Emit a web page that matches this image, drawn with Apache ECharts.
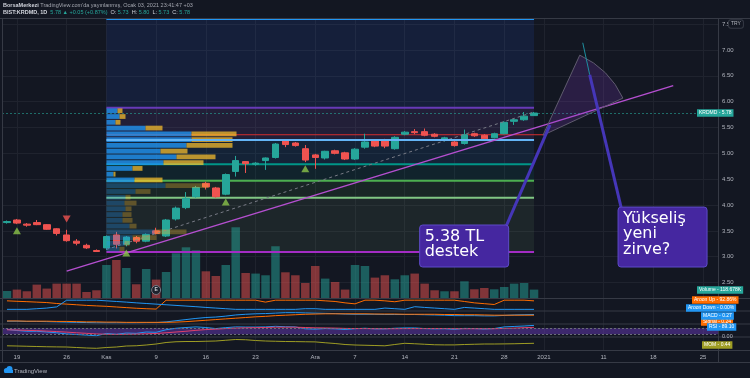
<!DOCTYPE html>
<html><head><meta charset="utf-8"><title>KRDMD</title>
<script src="https://cdn.jsdelivr.net/npm/echarts@6/dist/echarts.min.js"></script>
<style>html,body{margin:0;padding:0;background:#131722;overflow:hidden}#c{width:750px;height:378px}</style>
</head><body><div id="c"></div>
<script>
// ---------------- DATA ----------------
const dates = ['2020-10-16','2020-10-19','2020-10-20','2020-10-21','2020-10-22','2020-10-23','2020-10-26','2020-10-27','2020-10-28','2020-10-30',
'2020-11-02','2020-11-03','2020-11-04','2020-11-05','2020-11-06','2020-11-09','2020-11-10','2020-11-11','2020-11-12','2020-11-13',
'2020-11-16','2020-11-17','2020-11-18','2020-11-19','2020-11-20','2020-11-23','2020-11-24','2020-11-25','2020-11-26','2020-11-27','2020-11-30',
'2020-12-01','2020-12-02','2020-12-03','2020-12-04','2020-12-07','2020-12-08','2020-12-09','2020-12-10','2020-12-11',
'2020-12-14','2020-12-15','2020-12-16','2020-12-17','2020-12-18','2020-12-21','2020-12-22','2020-12-23','2020-12-24','2020-12-25',
'2020-12-28','2020-12-29','2020-12-30','2020-12-31'];
const futureDates = ['2021-01-01','2021-01-04','2021-01-05','2021-01-06','2021-01-07','2021-01-08','2021-01-11','2021-01-12','2021-01-13','2021-01-14','2021-01-15',
'2021-01-18','2021-01-19','2021-01-20','2021-01-21','2021-01-22','2021-01-25','2021-01-26'];

const openP  = [3.66,3.71,3.63,3.66,3.62,3.54,3.42,3.30,3.22,3.12, 3.17,3.42,3.24,3.37,3.30,3.50,3.40,3.73,3.95,4.16, 4.42,4.33,4.21,4.65,4.84,4.79,4.86,4.92,5.24,5.20,5.09, 4.97,4.91,5.05,5.01,4.89,5.12,5.24,5.26,5.09, 5.37,5.42,5.42,5.37,5.25,5.22,5.19,5.38,5.35,5.30, 5.38,5.62,5.65,5.73];
const closeP = [3.68,3.65,3.61,3.62,3.53,3.45,3.31,3.26,3.17,3.10, 3.39,3.24,3.38,3.30,3.43,3.45,3.71,3.94,4.13,4.34, 4.35,4.16,4.59,4.86,4.80,4.81,4.91,5.18,5.17,5.15,4.87, 4.92,5.04,5.00,4.89,5.08,5.22,5.14,5.14,5.31, 5.41,5.40,5.35,5.33,5.30,5.15,5.36,5.34,5.28,5.38, 5.60,5.65,5.72,5.78];
const lowP   = [3.64,3.63,3.58,3.61,3.52,3.41,3.29,3.22,3.15,3.09, 3.13,3.16,3.20,3.26,3.28,3.43,3.38,3.70,3.92,4.14, 4.30,4.14,4.19,4.55,4.62,4.76,4.68,4.90,5.12,5.13,4.83, 4.70,4.88,4.98,4.87,4.87,5.09,5.12,5.10,5.07, 5.35,5.37,5.33,5.31,5.23,5.13,5.17,5.32,5.26,5.29, 5.37,5.55,5.63,5.73];
const highP  = [3.70,3.73,3.65,3.71,3.63,3.55,3.52,3.34,3.25,3.14, 3.41,3.48,3.40,3.40,3.45,3.56,3.73,3.97,4.25,4.37, 4.45,4.35,4.61,4.95,4.85,4.83,4.92,5.20,5.27,5.22,5.16, 4.99,5.05,5.07,5.03,5.10,5.38,5.26,5.28,5.33, 5.43,5.47,5.48,5.39,5.32,5.24,5.46,5.40,5.37,5.40, 5.62,5.67,5.80,5.80];
const volumeK = [99,119,95,189,133,203,203,203,85,109, 466,537,424,194,410,260,367,632,716,674, 377,311,466,999,353,345,321,731,363,321,212, 452,274,226,119,466,452,288,321,264, 321,345,203,109,95,95,236,123,141,123, 155,203,212,118.678];

const aroonUp   = [93,88,84,79,74,64,57,50,43,38, 33,26,19,12,7,3,100,100,100,100, 100,100,100,100,100,100,79,100,100,100,100, 100,93,86,71,60,100,100,93,83, 100,100,100,100,100,100,86,71,62,53, 100,100,100,92.86];
const aroonDown = [0,0,0,7,14,27,100,100,100,100, 93,86,79,71,64,57,50,43,36,29, 21,14,7,0,0,0,0,0,0,0,7, 7,0,0,0,0,0,0,14,7, 0,29,21,14,7,0,21,14,7,0, 0,0,0,0];
const macdLine  = [-0.02,-0.02,-0.03,-0.03,-0.04,-0.05,-0.06,-0.07,-0.08,-0.09, -0.09,-0.09,-0.09,-0.09,-0.08,-0.08,-0.05,0.00,0.05,0.10, 0.14,0.16,0.20,0.25,0.28,0.30,0.31,0.33,0.35,0.35,0.34, 0.33,0.32,0.31,0.29,0.28,0.28,0.28,0.27,0.27, 0.27,0.27,0.26,0.25,0.24,0.22,0.22,0.22,0.21,0.21, 0.23,0.25,0.26,0.27];
const macdSignal= [-0.01,-0.01,-0.02,-0.02,-0.02,-0.03,-0.03,-0.04,-0.05,-0.05, -0.06,-0.06,-0.07,-0.07,-0.07,-0.07,-0.07,-0.06,-0.04,-0.01, 0.02,0.05,0.08,0.11,0.14,0.17,0.19,0.22,0.24,0.26,0.28, 0.29,0.30,0.30,0.30,0.30,0.30,0.29,0.29,0.29, 0.28,0.28,0.28,0.28,0.27,0.27,0.26,0.26,0.25,0.24, 0.24,0.24,0.24,0.24];
const rsi   = [62,55,50,50,45,40,32,28,24,20, 35,30,38,36,45,43,60,70,75,79, 75,68,74,79,78,78,79,83,80,79,66, 64,68,66,62,67,70,66,66,70, 72,72,68,66,67,63,69,68,65,68, 79,82,85,89.1];
const rsiMA = [60,58,56,54,51,48,44,40,36,32, 30,29,30,31,33,35,40,45,50,56, 61,64,68,71,73,74,75,77,77,77,75, 73,72,71,69,68,68,67,67,67, 68,68,68,68,68,67,67,67,67,67, 69,71,74,76];
const mom   = [-0.06,-0.1,-0.15,-0.2,-0.25,-0.28,-0.3,-0.4,-0.5,-0.56, -0.4,-0.3,-0.1,-0.05,0.1,0.3,0.6,0.75,0.8,0.8, 0.85,0.9,1.05,1.2,1.15,1.0,0.9,0.85,0.8,0.78,0.75, 0.72,0.55,0.4,0.2,0.1,0.05,0.0,-0.06,0.2, 0.44,0.35,0.25,0.15,0.12,0.12,0.2,0.25,0.3,0.3, 0.32,0.35,0.4,0.44];

const fibRatios = ['1.618','1','0.786','0.618','0.5','0.382','0'];
const fibPrices = [7.60,5.88,5.26,4.79,4.47,4.14,3.09];
const fibStartDate = '2020-11-02', fibEndDate = '2020-12-31';
const supportPrice = 5.36, supportStart = '2020-11-02', supportEnd = '2021-01-01';

const vpLow = 3.09, vpRowHeight = 0.1116, valueAreaLow = 4.42;
const vpUp   = [260,360,520,960,460,320,320,380,360,380,580,1180,560,140,520,1140,1400,1080,1600,1700,1700,780,180,260,220];
const vpDown = [100,100,480,640,140,200,180,120,240,100,300,860,560,40,200,800,780,540,920,820,900,340,100,120,100];

const trendDates = ['2020-10-26','2021-01-20'], trendPrices = [2.72, 6.31];
const channelDates = ['2020-11-02','2020-12-31'], channelPrices = [3.14, 5.80];

const buyDates = ['2020-10-19','2020-11-04','2020-11-18','2020-11-30'], buyPrices = [3.50,3.07,4.06,4.70];
const sellDates = ['2020-10-26'], sellPrices = [3.73];

const timeTickDates  = ['2020-10-19','2020-10-26','2020-11-02','2020-11-09','2020-11-16','2020-11-23','2020-12-01','2020-12-07','2020-12-14','2020-12-21','2020-12-28','2021-01-01','2021-01-11','2021-01-18','2021-01-25'];
const timeTickLabels = ['19','26','Kas','9','16','23','Ara','7','14','21','28','2021','11','18','25'];

// ---------------- CHART ----------------
const UP='#26a69a', DN='#ef5350', BG='#131722', TXT='#b2b5be', GRIDC='#1f232e', SEP='#363a45';
const FONT='"Liberation Sans", Arial, sans-serif';
const allDates = dates.concat(futureDates);
const N = dates.length;
const labelMap = {}; timeTickDates.forEach((d,k)=>labelMap[d]=timeTickLabels[k]);

const chart = echarts.init(document.getElementById('c'), null, {renderer:'canvas', width:750, height:378});

const gridBase = {left:2, width:716, outerBoundsMode:'none', containLabel:false};
const grids = [
  Object.assign({}, gridBase, {top:3.5, height:304.85}),   // 0 price
  Object.assign({}, gridBase, {top:218, height:80}),        // 1 volume
  {left:106.5, width:430, top:3.5, height:304.85, outerBoundsMode:'none'}, // 2 volume profile
  Object.assign({}, gridBase, {top:299, height:11}),        // 3 aroon
  Object.assign({}, gridBase, {top:311.5, height:12}),      // 4 macd
  Object.assign({}, gridBase, {top:324.5, height:12}),      // 5 rsi
  Object.assign({}, gridBase, {top:337.5, height:12}),      // 6 mom
  {left:6.97, width:706.0, top:18.5, height:331.5, outerBoundsMode:'none'} // 7 time axis
];
const catX = g => ({type:'category', gridIndex:g, data:allDates, boundaryGap:true, show:false});
const hidY = (g,min,max) => ({type:'value', gridIndex:g, min, max, show:false, splitLine:{show:false}});

const zoneColors = ['rgba(41,98,255,0.11)','rgba(126,87,194,0.14)','rgba(33,150,243,0.10)','rgba(0,150,136,0.10)','rgba(76,175,80,0.10)','rgba(129,199,132,0.09)'];
const fibColors = ['#2196f3','#673ab7','#64b5f6','#009688','#4caf50','#81c784','#a32cc4'];
const zones = fibPrices.slice(0,-1).map((p,k)=>[{xAxis:fibStartDate, yAxis:p, itemStyle:{color:zoneColors[k]}},{xAxis:fibEndDate, yAxis:fibPrices[k+1]}]);

const series = [];
series.push({type:'candlestick', name:'KRDMD', xAxisIndex:0, yAxisIndex:0, z:4, barWidth:7,
  data: dates.map((d,i)=>[openP[i],closeP[i],lowP[i],highP[i]]),
  itemStyle:{color:UP, color0:DN, borderColor:UP, borderColor0:DN, borderWidth:1},
  markArea:{silent:true, data:zones},
  markLine:{silent:true, symbol:'none', label:{show:false}, lineStyle:{color:'rgba(38,166,154,0.6)', type:[2,2], width:1}, data:[{yAxis:closeP[N-1]}]}
});
fibRatios.forEach((r,k)=>{
  series.push({type:'line', xAxisIndex:0, yAxisIndex:0, z:(r==='0.786'?7:3), symbol:'none', silent:true,
    lineStyle:{color:fibColors[k], width:2},
    data:[{value:[fibStartDate, fibPrices[k]], label:{show:r!=='1.618', position:'left', distance:2, offset:[0,-3], color:fibColors[k], fontSize:5.5, fontFamily:FONT, formatter:r+'('+fibPrices[k].toFixed(2)+')'}},
          [fibEndDate, fibPrices[k]]]});
});
series.push({type:'line', xAxisIndex:0, yAxisIndex:0, z:3, symbol:'none', silent:true, lineStyle:{color:'#d32f2f', width:1},
  data:[[supportStart, supportPrice],[supportEnd, supportPrice]]});
series.push({type:'line', xAxisIndex:0, yAxisIndex:0, z:5, symbol:'none', silent:true, lineStyle:{color:'#787b86', width:1, type:[3,3]},
  data:channelDates.map((d,k)=>[d, channelPrices[k]])});
series.push({type:'line', xAxisIndex:0, yAxisIndex:0, z:8, symbol:'none', silent:true, lineStyle:{color:'#b54fd0', width:1.5},
  data:trendDates.map((d,k)=>[d, trendPrices[k]])});
series.push({type:'scatter', xAxisIndex:0, yAxisIndex:0, z:8, symbol:'triangle', symbolSize:[8,7], itemStyle:{color:'#8bc34a'},
  data:buyDates.map((d,k)=>[d, buyPrices[k]])});
series.push({type:'scatter', xAxisIndex:0, yAxisIndex:0, z:8, symbol:'triangle', symbolRotate:180, symbolSize:[8,7], itemStyle:{color:'#ef5350'},
  data:sellDates.map((d,k)=>[d, sellPrices[k]])});
// volume profile
series.push({type:'custom', xAxisIndex:2, yAxisIndex:2, z:6, silent:true,
  data: vpUp.map((u,k)=>[vpLow+k*vpRowHeight, vpLow+(k+1)*vpRowHeight, u, vpDown[k]]),
  renderItem:(params, api)=>{
    const lo=api.value(0), hi=api.value(1), up=api.value(2), dn=api.value(3);
    const a=api.coord([0,hi]), b=api.coord([up,lo]), c=api.coord([up+dn,lo]);
    const top=a[1]+0.5, h=Math.max(1,(b[1]-a[1])-1);
    const bright = lo >= valueAreaLow;
    return {type:'group', children:[
      {type:'rect', shape:{x:a[0], y:top, width:b[0]-a[0], height:h}, style:{fill: bright?'rgba(33,150,243,0.78)':'rgba(33,150,243,0.3)'}},
      {type:'rect', shape:{x:b[0], y:top, width:c[0]-b[0], height:h}, style:{fill: bright?'rgba(251,192,45,0.72)':'rgba(251,192,45,0.3)'}}
    ]};
  }});
// volume
series.push({type:'bar', xAxisIndex:1, yAxisIndex:1, z:2, barWidth:8.5, silent:true,
  data: volumeK.map((v,i)=>({value:v, itemStyle:{color: closeP[i]>=openP[i]?'rgba(38,166,154,0.5)':'rgba(239,83,80,0.5)'}}))});
// aroon
series.push({type:'line', xAxisIndex:3, yAxisIndex:3, symbol:'none', silent:true, lineStyle:{color:'#ff6d00', width:1}, data:aroonUp});
series.push({type:'line', xAxisIndex:3, yAxisIndex:3, symbol:'none', silent:true, lineStyle:{color:'#2196f3', width:1}, data:aroonDown});
// macd
series.push({type:'line', xAxisIndex:4, yAxisIndex:4, symbol:'none', silent:true, lineStyle:{color:'#2196f3', width:1}, data:macdLine});
series.push({type:'line', xAxisIndex:4, yAxisIndex:4, symbol:'none', silent:true, lineStyle:{color:'#ff6d00', width:1}, data:macdSignal});
// rsi
series.push({type:'line', xAxisIndex:5, yAxisIndex:5, symbol:'none', silent:true, z:3, lineStyle:{color:'#2196f3', width:1}, data:rsi,
  markArea:{silent:true, itemStyle:{color:'rgba(103,58,183,0.5)'}, data:[[{yAxis:70},{yAxis:30}]]},
  markLine:{silent:true, symbol:'none', label:{show:false}, lineStyle:{color:'#6a6d78', type:[2,2], width:1}, data:[{yAxis:70},{yAxis:30}]}});
series.push({type:'line', xAxisIndex:5, yAxisIndex:5, symbol:'none', silent:true, z:3, lineStyle:{color:'#e0406a', width:1}, data:rsiMA});
// mom
series.push({type:'line', xAxisIndex:6, yAxisIndex:6, symbol:'none', silent:true, lineStyle:{color:'#9e9d24', width:1}, data:mom});

const option = {
  animation:false, backgroundColor:BG,
  grid: grids,
  xAxis: [catX(0), catX(1), {type:'value', gridIndex:2, min:0, max:8600, show:false}, catX(3), catX(4), catX(5), catX(6),
    {type:'category', gridIndex:7, data:allDates, boundaryGap:false,
     axisLine:{show:false}, axisTick:{show:false},
     axisLabel:{interval:(i,v)=>labelMap[v]!==undefined, formatter:v=>labelMap[v]||'', color:TXT, fontSize:6, margin:4.5, fontFamily:FONT, hideOverlap:false},
     splitLine:{show:true, interval:(i,v)=>labelMap[v]!==undefined, lineStyle:{color:GRIDC, width:1}}}],
  yAxis: [
    {type:'value', gridIndex:0, min:2.0, max:7.9, interval:0.5, position:'right',
     axisLine:{show:false}, axisTick:{show:false},
     axisLabel:{color:TXT, fontSize:6, margin:4, fontFamily:FONT, showMinLabel:false, showMaxLabel:false, formatter:v=>v.toFixed(2)},
     splitLine:{show:true, showMinLine:false, showMaxLine:false, lineStyle:{color:GRIDC, width:1}}},
    hidY(1,0,1130), hidY(2,2.0,7.9), hidY(3,-7,113), hidY(4,-0.12,0.40), hidY(5,15,95), hidY(6,-0.8,1.6),
    {type:'value', gridIndex:7, show:false}
  ],
  series
};
chart.setOption(option);

// ---------------- ANNOTATIONS (anchored in data coordinates) ----------------
const X0 = chart.convertToPixel({xAxisIndex:0}, dates[0]);
const X1 = chart.convertToPixel({xAxisIndex:0}, dates[1]);
const px = i => X0 + i*(X1-X0);
const py = p => chart.convertToPixel({yAxisIndex:0}, p);

const G = [];
const L = (x1,y1,x2,y2,c,w,z)=>G.push({type:'line', z:z||50, silent:true, shape:{x1,y1,x2,y2}, style:{stroke:c, lineWidth:w||1}});
// frame & pane separators
L(0,18.5,750,18.5,SEP,1);
[298.5,311,324,337].forEach(y=>L(0,y,750,y,SEP,1.2));
L(0,350.5,750,350.5,SEP,1); L(0,362.5,750,362.5,SEP,1);
L(718.5,18,718.5,362,SEP,1); L(2.5,18,2.5,362,SEP,1);

// arc drawing
const cC=[px(53.9),py(5.35)], cS=[px(57.6),py(6.90)], cE=[px(61.95),py(6.07)];
const rr = Math.hypot(cS[0]-cC[0], cS[1]-cC[1]);
G.push({type:'sector', z:20, silent:true, shape:{cx:cC[0], cy:cC[1], r0:0, r:rr,
  startAngle:Math.atan2(cS[1]-cC[1], cS[0]-cC[0]), endAngle:Math.atan2(cE[1]-cC[1], cE[0]-cC[0]), clockwise:true},
  style:{fill:'rgba(126,60,190,0.22)', stroke:'#5f5b6e', lineWidth:1}});
// arrows to notes
L(px(50.2),py(3.59),px(54.6),py(5.55),'#4536b8',3,30);
L(px(57.9),py(7.14),px(58.6),py(6.52),'#1e8fa0',1,30);
L(px(58.6),py(6.52),px(61.75),py(3.96),'#4536b8',3,30);
// note boxes
function note(i1,p1,i2,p2,txt){
  const x=px(i1), y=py(p1), w=px(i2)-x, h=py(p2)-y;
  G.push({type:'rect', z:90, silent:true, shape:{x, y, width:w, height:h, r:3}, style:{fill:'#4527a0', stroke:'#5e4bc8', lineWidth:1}});
  G.push({type:'text', z:91, silent:true, x:x+5, y:y+4, style:{text:txt, fill:'#ffffff', font:'16px "DejaVu Sans", sans-serif', lineHeight:15.5, verticalAlign:'top'}});
}
note(41.5,3.613,50.45,2.80,'5.38 TL\ndestek');
note(61.45,3.96,70.4,2.80,'Yükseliş\nyeni\nzirve?');

// earnings marker
G.push({type:'circle', z:60, silent:true, shape:{cx:px(15), cy:290, r:4.5}, style:{fill:'#1e222d', stroke:'#787b86', lineWidth:1}});
G.push({type:'text', z:61, silent:true, x:px(15), y:290, style:{text:'E', fill:'#d1d4dc', font:'bold 5px '+FONT, align:'center', verticalAlign:'middle'}});

// header
G.push({type:'text', z:100, silent:true, x:3, y:5, style:{text:"{b|BorsaMerkezi} TradingView.com'da yayınlanmış, Ocak 03, 2021 23:41:47 +03",
  fill:'#a3a6af', font:'5.5px '+FONT, verticalAlign:'middle', rich:{b:{fill:'#d1d4dc', font:'bold 5.5px '+FONT}}}});
G.push({type:'text', z:100, silent:true, x:3, y:12, style:{text:'{w|BIST:KRDMD, 1D}  {t|5.78 ▲ +0.05 (+0.87%)}  O: {t|5.73}  H: {t|5.80}  L: {t|5.73}  C: {t|5.78}',
  fill:'#d1d4dc', font:'5.5px '+FONT, verticalAlign:'middle', rich:{w:{fill:'#d1d4dc', font:'bold 5.5px '+FONT}, t:{fill:UP, font:'5.5px '+FONT}}}});

// right side badges
function badge(x,y,text,bg,fg){ G.push({type:'text', z:100, silent:true, x, y, style:{text, fill:fg||'#ffffff', backgroundColor:bg, padding:[1.5,2,1,2], font:'5px '+FONT, verticalAlign:'middle', align:'left'}}); }
G.push({type:'text', z:100, silent:true, x:729, y:24, style:{text:'TRY', fill:TXT, backgroundColor:BG, borderColor:SEP, borderWidth:1, borderRadius:2, padding:[1.5,2,1,2], font:'5px '+FONT, verticalAlign:'middle'}});
badge(697, py(closeP[N-1]), 'KRDMD - 5.78', UP);
badge(697, 290, 'Volume - 118.678K', UP);
badge(692, 300, 'Aroon Up - 92.86%', '#ff6d00');
badge(686, 308, 'Aroon Down - 0.00%', '#2196f3');
badge(701, 322, 'Signal - 0.24', '#ff6d00');
badge(701, 316, 'MACD - 0.27', '#2196f3');
badge(707, 327, 'RSI - 89.10', '#2196f3');
G.push({type:'text', z:100, silent:true, x:722, y:336, style:{text:'0.00', fill:TXT, font:'5.5px '+FONT, verticalAlign:'middle'}});
badge(702, 345, 'MOM - 0.44', '#9e9d24');

// TradingView logo
G.push({type:'circle', z:100, silent:true, shape:{cx:6.5, cy:370.5, r:2.6}, style:{fill:'#2196f3'}});
G.push({type:'circle', z:100, silent:true, shape:{cx:9.5, cy:369, r:3}, style:{fill:'#2196f3'}});
G.push({type:'rect', z:100, silent:true, shape:{x:4.5, y:370, width:8.5, height:3}, style:{fill:'#2196f3'}});
G.push({type:'text', z:100, silent:true, x:14, y:371, style:{text:'TradingView', fill:TXT, font:'6px '+FONT, verticalAlign:'middle'}});

chart.setOption({graphic:{elements:G}});
</script></body></html>
